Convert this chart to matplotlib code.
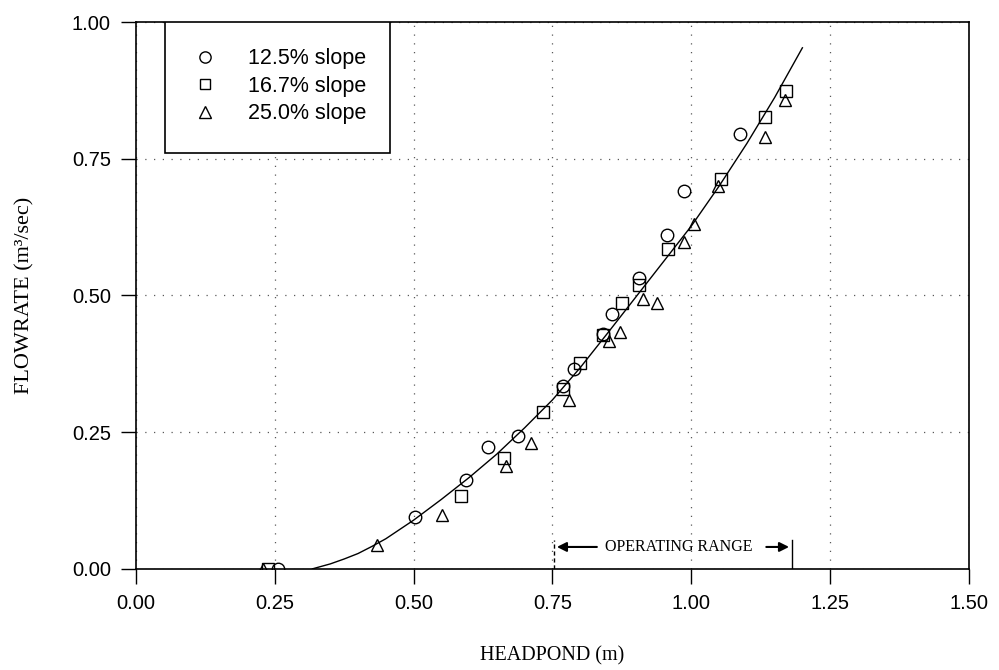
import matplotlib
matplotlib.use("Agg")
import matplotlib.pyplot as plt
from matplotlib.patches import Rectangle

# values
CIRCLE_H = [0.256, 0.502, 0.594, 0.634, 0.688, 0.769, 0.789, 0.841, 0.857, 0.906, 0.957, 0.986, 1.087]
CIRCLE_Q = [0.000, 0.095, 0.163, 0.223, 0.243, 0.335, 0.366, 0.430, 0.466, 0.532, 0.611, 0.691, 0.795]

SQUARE_H = [0.238, 0.585, 0.663, 0.733, 0.769, 0.800, 0.841, 0.875, 0.906, 0.958, 1.054, 1.132, 1.171]
SQUARE_Q = [0.000, 0.133, 0.203, 0.287, 0.329, 0.377, 0.428, 0.486, 0.519, 0.585, 0.713, 0.826, 0.874]

TRIANGLE_H = [0.229, 0.435, 0.552, 0.666, 0.711, 0.780, 0.852, 0.872, 0.913, 0.939, 0.986, 1.005, 1.048, 1.132, 1.168]
TRIANGLE_Q = [0.000, 0.044, 0.099, 0.188, 0.231, 0.309, 0.416, 0.433, 0.494, 0.487, 0.597, 0.631, 0.701, 0.790, 0.857]

# fitted curve
CURVE_H = [0.318, 0.35, 0.375, 0.40, 0.425, 0.45, 0.50, 0.55, 0.60, 0.65, 0.70, 0.75, 0.80,
           0.85, 0.90, 0.95, 1.00, 1.05, 1.10, 1.15, 1.20]
CURVE_Q = [0.000, 0.009, 0.018, 0.028, 0.041, 0.055, 0.089, 0.127, 0.167, 0.210, 0.258, 0.309, 0.368,
           0.432, 0.497, 0.562, 0.627, 0.700, 0.778, 0.862, 0.953]

RANGE_START = 0.753
RANGE_END = 1.181

SERIES_LABELS = ["12.5% slope", "16.7% slope", "25.0% slope"]
X_TICKS = [0.00, 0.25, 0.50, 0.75, 1.00, 1.25, 1.50]
Y_TICKS = [0.00, 0.25, 0.50, 0.75, 1.00]

sans = "Liberation Sans"
serif = "Liberation Serif"

fig = plt.figure(figsize=(9.99, 6.70), dpi=100)
ax = fig.add_axes([0.136, 0.151, 0.834, 0.816])

mk = dict(linestyle="none", markerfacecolor="none", markeredgecolor="black",
          markeredgewidth=1.0, zorder=4)
ax.plot(CIRCLE_H, CIRCLE_Q, marker="o", markersize=9, label=SERIES_LABELS[0], **mk)
ax.plot(SQUARE_H, SQUARE_Q, marker="s", markersize=8, label=SERIES_LABELS[1], **mk)
ax.plot(TRIANGLE_H, TRIANGLE_Q, marker="^", markersize=9, label=SERIES_LABELS[2], **mk)
ax.plot(CURVE_H, CURVE_Q, color="black", linewidth=1.0, zorder=3)

ax.set_xlim(0, 1.5)
ax.set_ylim(0, 1.0)
ax.set_xticks(X_TICKS)
ax.set_yticks(Y_TICKS)
ax.set_xticklabels([f"{v:.2f}" for v in X_TICKS], fontfamily=sans, fontsize=14.5)
ax.set_yticklabels([f"{v:.2f}" for v in Y_TICKS], fontfamily=sans, fontsize=14.5)
ax.tick_params(direction="out", length=11, width=1.0, pad=7, top=False, right=False)
ax.grid(True, linestyle=(0, (1, 6)), linewidth=0.9, color="0.35")
for s in ax.spines.values():
    s.set_linewidth(1.2)

ax.set_xlabel("HEADPOND (m)", fontfamily=serif, fontsize=14.5, labelpad=24)
ax.set_ylabel("FLOWRATE (m³/sec)", fontfamily=serif, fontsize=16, labelpad=27)

# operating range marker
ax.plot([RANGE_START, RANGE_START], [0, 0.052], color="black", linewidth=1.0,
        linestyle=(0, (3, 2)), zorder=3)
ax.plot([RANGE_END, RANGE_END], [0, 0.052], color="black", linewidth=1.0, zorder=3)
ax.annotate("", xy=(RANGE_START, 0.040), xytext=(0.835, 0.040),
            arrowprops=dict(arrowstyle="-|>", color="black", lw=1.5, mutation_scale=14))
ax.annotate("", xy=(RANGE_END, 0.040), xytext=(1.130, 0.040),
            arrowprops=dict(arrowstyle="-|>", color="black", lw=1.5, mutation_scale=14))
ax.text(0.977, 0.040, "OPERATING RANGE", fontfamily=serif, fontsize=11.5,
        ha="center", va="center")

# legend with a hand-drawn frame
ax.add_patch(Rectangle((0.035, 0.760), 0.270, 0.240, transform=ax.transAxes,
                       facecolor="white", edgecolor="black", linewidth=1.2, zorder=5))
leg = ax.legend(loc="upper left", bbox_to_anchor=(0.06, 0.968), frameon=False,
                prop={"family": sans, "size": 15.5}, markerscale=0.9,
                handlelength=1.0, handletextpad=1.5, labelspacing=0.3, borderaxespad=0)
leg.set_zorder(6)

fig.savefig("out.png", dpi=100)
